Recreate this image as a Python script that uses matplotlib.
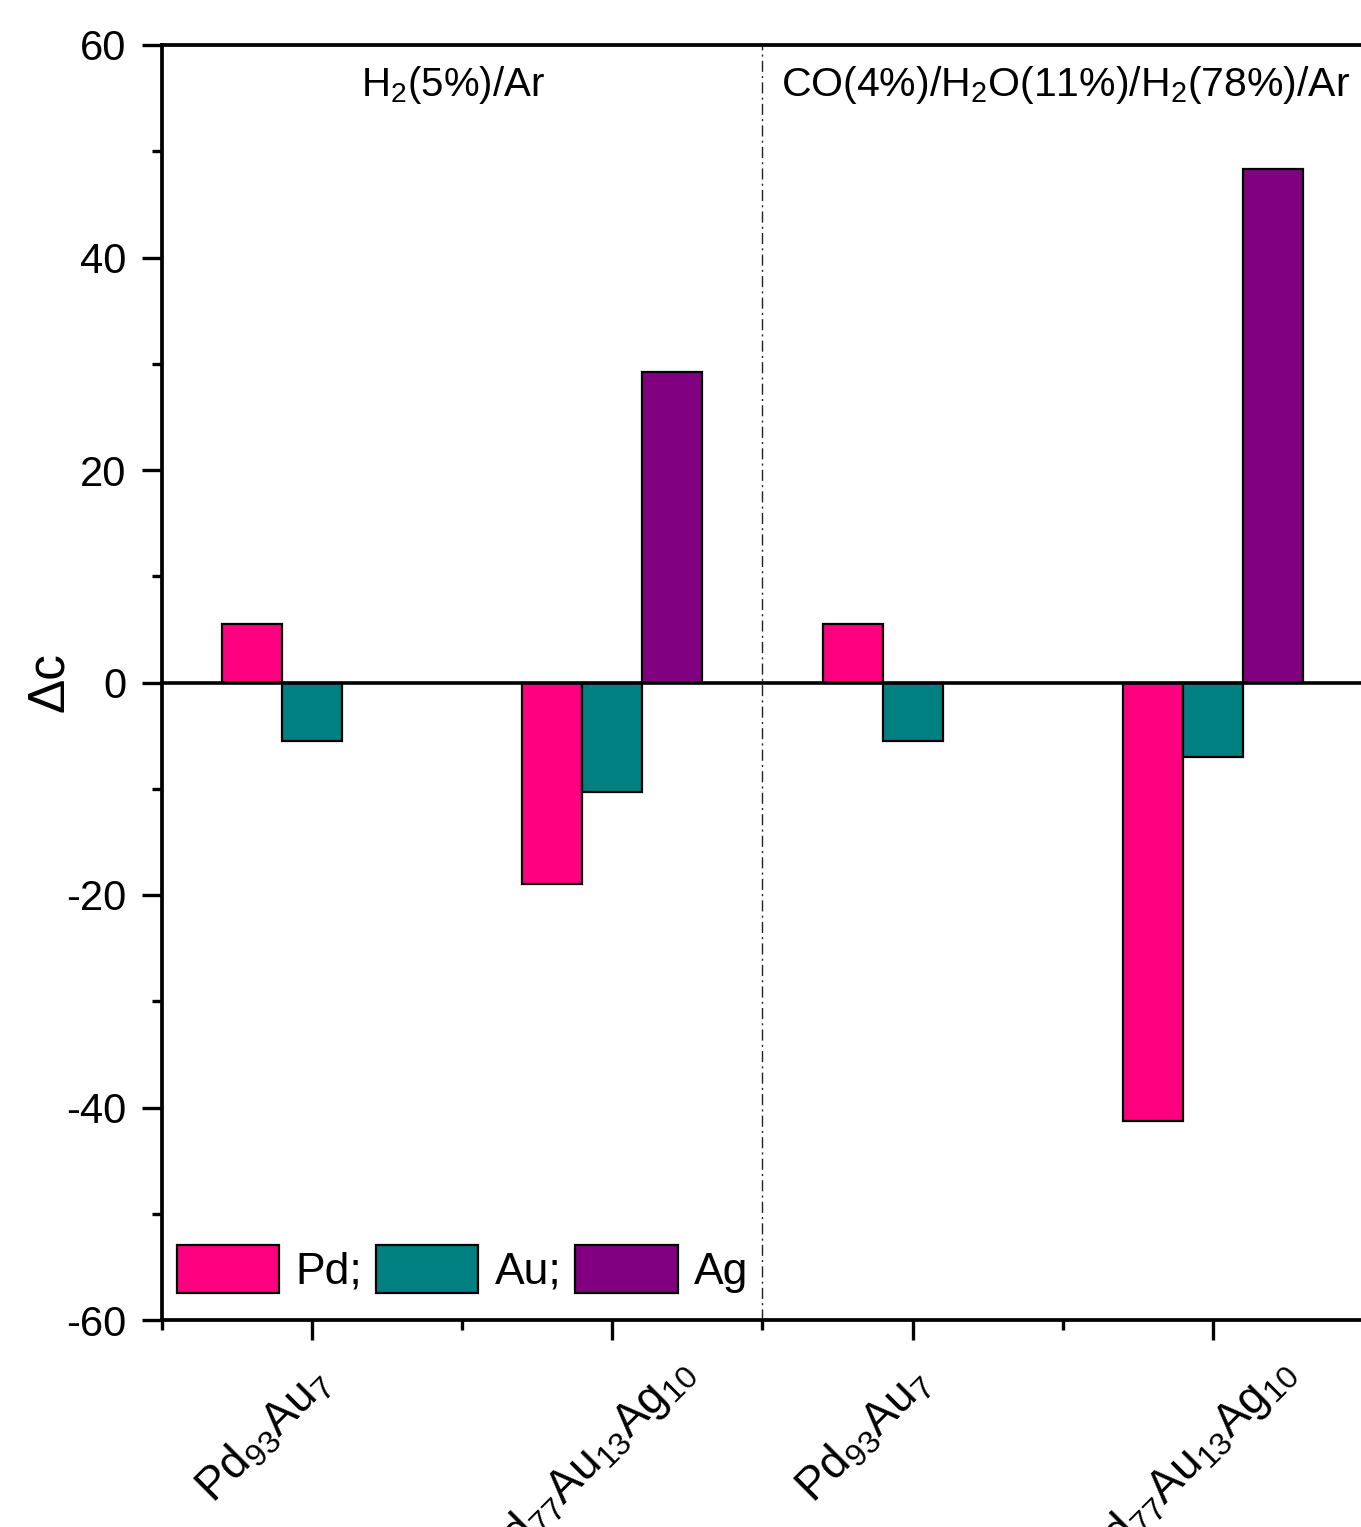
import numpy as np
import matplotlib
matplotlib.use("Agg")
import matplotlib.pyplot as plt
from matplotlib.ticker import MultipleLocator, FixedLocator
from matplotlib.transforms import ScaledTranslation

plt.rcParams['font.family'] = ['Liberation Sans', 'DejaVu Sans']
plt.rcParams['mathtext.fontset'] = 'custom'
plt.rcParams['mathtext.rm'] = 'Liberation Sans'
plt.rcParams['mathtext.it'] = 'Liberation Sans'
plt.rcParams['mathtext.default'] = 'regular'
plt.rcParams['axes.unicode_minus'] = False

# ---- data ----
tick_labels = [r"Pd$_{93}$Au$_{7}$", r"Pd$_{77}$Au$_{13}$Ag$_{10}$",
               r"Pd$_{93}$Au$_{7}$", r"Pd$_{77}$Au$_{13}$Ag$_{10}$"]
pd_vals = [5.5, -19.0, 5.5, -41.3]
au_vals = [-5.5, -10.3, -5.5, -7.0]
ag_vals = [np.nan, 29.2, np.nan, 48.3]
series_names = ["Pd;", "Au;", "Ag"]
series_colors = ["#FF0080", "#008080", "#800080"]
conditions = [r"H$_2$(5%)/Ar", r"CO(4%)/H$_2$O(11%)/H$_2$(78%)/Ar"]

fig = plt.figure(figsize=(13.61, 15.27), dpi=100)
ax = fig.add_axes([162/1361, 207/1527, 1201/1361, 1275/1527])

x = np.arange(1, len(tick_labels) + 1)
w = 0.2
for i, (vals, name, col) in enumerate(zip([pd_vals, au_vals, ag_vals], series_names, series_colors)):
    ax.bar(x + (i - 1) * w, vals, width=w, color=col, edgecolor='black',
           linewidth=1.6, label=name, zorder=2)

ax.axhline(0, color='black', lw=2.6, zorder=3)
ax.axvline(2.5, color='#222222', lw=1.0, linestyle=(0, (8, 3, 1.5, 3)), zorder=1)

ax.set_xlim(0.5, 4.5)
ax.set_ylim(-60, 60)
ax.yaxis.set_major_locator(MultipleLocator(20))
ax.yaxis.set_minor_locator(MultipleLocator(10))
ax.set_xticks(x)
ax.xaxis.set_minor_locator(FixedLocator([0.5, 1.5, 2.5, 3.5, 4.5]))

for s in ax.spines.values():
    s.set_linewidth(2.7)

ax.tick_params(axis='both', which='major', direction='out', length=14.4, width=2.4,
               labelsize=30, pad=11)
ax.tick_params(axis='both', which='minor', direction='out', length=7.2, width=2.4)
ax.tick_params(axis='x', which='major', pad=3)

ax.set_xticklabels(tick_labels, rotation=45, ha='right', va='top',
                   rotation_mode='anchor', fontsize=33)
offsets = [(-5, -16), (58, -4), (-5, -16), (58, -4)]
for lab, (dx, dy) in zip(ax.get_xticklabels(), offsets):
    lab.set_transform(lab.get_transform() + ScaledTranslation(dx/100, dy/100, fig.dpi_scale_trans))

ax.set_ylabel("Δc", fontsize=37)
ax.yaxis.set_label_coords(-0.073, 0.5)

ax.text(1.47, 0.969, conditions[0], transform=ax.get_xaxis_transform(),
        ha='center', va='center', fontsize=29)
ax.text(3.51, 0.969, conditions[1], transform=ax.get_xaxis_transform(),
        ha='center', va='center', fontsize=29.5)

ax.legend(loc='lower left', bbox_to_anchor=(15/1201, 27/1275), ncol=3, frameon=False,
          fontsize=32, handlelength=2.3, handleheight=1.3, handletextpad=0.36,
          columnspacing=0.32, borderaxespad=0, borderpad=0)

fig.savefig("out.png", dpi=100)
